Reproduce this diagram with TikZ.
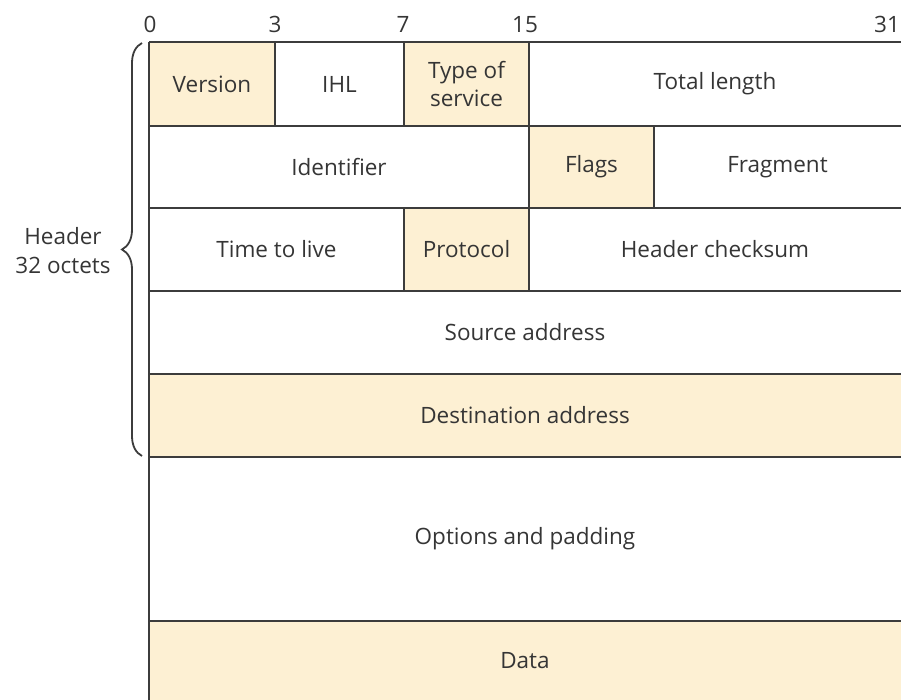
\documentclass[tikz,border=0pt]{standalone}
\usepackage{fontspec}
\setmainfont{Open Sans}
\usepackage{xcolor}
\usetikzlibrary{positioning, decorations.pathreplacing}
\definecolor{cellfill}{HTML}{FDF0D3}
\definecolor{rulegray}{HTML}{3C3C3C}
\definecolor{textgray}{HTML}{353535}

\begin{document}
\begin{tikzpicture}[
    x=1pt, y=-1pt,
    field/.style={rectangle, anchor=north west, inner sep=0pt, outer sep=0pt,
                  align=center, text=textgray,
                  font=\fontsize{22.5}{28}\selectfont},
    shaded/.style={field, fill=cellfill},
    rule/.style={draw=rulegray, line width=1.6pt},
    bitno/.style={font=\fontsize{22.5}{24}\selectfont, text=textgray, anchor=base},
    label/.style={font=\fontsize{22.5}{29}\selectfont, text=textgray, align=center},
]
\useasboundingbox (0,0) rectangle (901,700);

% -- Row 1 --
\node[shaded, minimum width=126pt, minimum height=84pt] (version) at (149,42) {Version};
\node[field, minimum width=129pt, minimum height=84pt] (ihl) at (275,42) {IHL};
\node[shaded, minimum width=125pt, minimum height=84pt] (tos) at (404,42) {Type of\\service};
\node[field, minimum width=372pt, minimum height=84pt] (totlen) at (529,42) {Total length};

% -- Row 2 --
\node[field, minimum width=380pt, minimum height=82pt] (ident) at (149,126) {Identifier};
\node[shaded, minimum width=125pt, minimum height=82pt] (flags) at (529,126) {Flags};
\node[field, minimum width=247pt, minimum height=82pt] (frag) at (654,126) {Fragment};

% -- Row 3 --
\node[field, minimum width=255pt, minimum height=83pt] (ttl) at (149,208) {Time to live};
\node[shaded, minimum width=125pt, minimum height=83pt] (proto) at (404,208) {Protocol};
\node[field, minimum width=372pt, minimum height=83pt] (chksum) at (529,208) {Header checksum};

% -- Rows 4 to 7 --
\node[field, minimum width=752pt, minimum height=83pt] (src) at (149,291) {Source address};
\node[shaded, minimum width=752pt, minimum height=83pt] (dst) at (149,374) {Destination address};
\node[field, minimum width=752pt, minimum height=164pt] (opts) at (149,457) {Options and padding};
\node[shaded, minimum width=752pt, minimum height=79pt] (data) at (149,621) {Data};

% -- Rules --
\foreach \y in {42,126,208,291,374,457,621}
  \draw[rule] (149,\y) -- (901,\y);
\draw[rule] (version.north west) -- (data.south west);
\draw[rule] (version.north east) -- (version.south east);
\draw[rule] (tos.north west) -- (tos.south west);
\draw[rule] (tos.north east) -- (proto.south east);
\draw[rule] (flags.north east) -- (flags.south east);
\draw[rule] (proto.north west) -- (proto.south west);

% -- Bit numbers --
\node[bitno] (b0) at (150,33) {0};
\node[bitno] (b3) at (275,33) {3};
\node[bitno] (b7) at (403,33) {7};
\node[bitno] (b15) at (525,33) {15};
\node[bitno] (b31) at (887,33) {31};

% -- Header brace --
\draw[draw=rulegray, line width=1.8pt,
      decorate, decoration={brace, amplitude=20pt}]
  (142,456) -- (142,43) coordinate[midway] (bracemid);
\node[label] (hdr) at (63,251) {Header\\32 octets};

\end{tikzpicture}
\end{document}
